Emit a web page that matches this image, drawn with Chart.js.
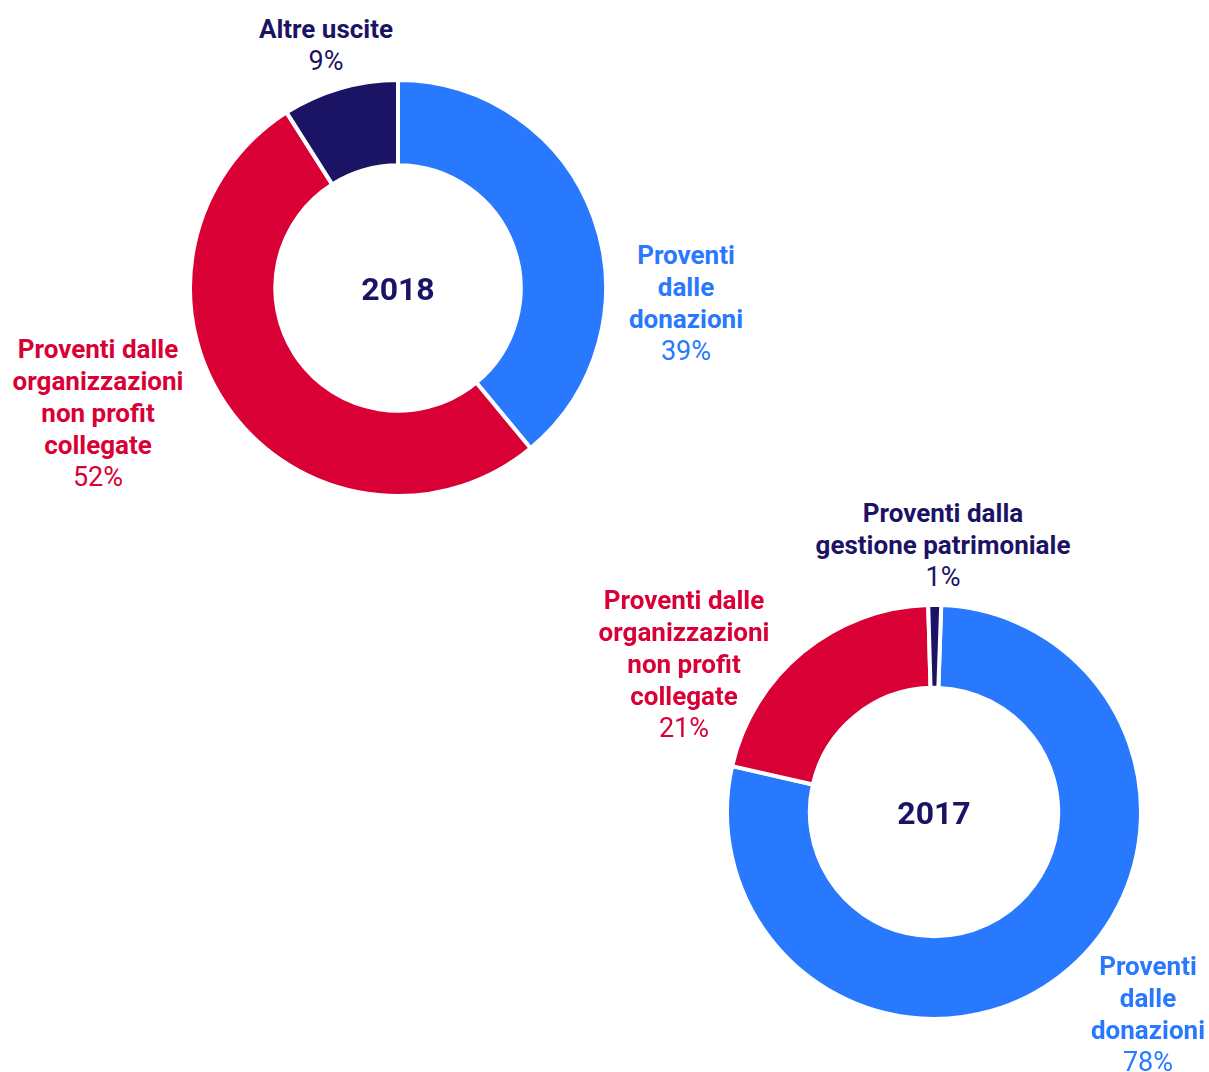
<!DOCTYPE html>
<html>
<head>
<meta charset="utf-8">
<script src="https://cdn.jsdelivr.net/npm/chart.js@4"></script>
<style>
  html, body { margin:0; padding:0; background:#fff; }
  body { width:1209px; height:1072px; position:relative; overflow:hidden; font-family:Roboto, "Noto Sans", sans-serif; }
  .wrap { position:absolute; }
  .lbl { position:absolute; transform:translateX(-50%); text-align:center; line-height:32px; white-space:nowrap; }
  .lbl b { font-weight:700; font-size:26px; display:block; }
  .lbl span { font-weight:400; font-size:27px; display:block; }
  .year { position:absolute; transform:translate(-50%,-50%); font-size:32px; font-weight:700; color:#1b1464; }
</style>
</head>
<body>
<div class="wrap" id="w2018" style="left:188px;top:78px;width:420px;height:420px"><canvas id="c2018"></canvas></div>
<div class="wrap" id="w2017" style="left:725px;top:603px;width:418px;height:418px"><canvas id="c2017"></canvas></div>

<script>
const categories2018 = ['Proventi dalle donazioni', 'Proventi dalle organizzazioni non profit collegate', 'Altre uscite'];
const values2018 = [39, 52, 9];
const categories2017 = ['Proventi dalle donazioni', 'Proventi dalle organizzazioni non profit collegate', 'Proventi dalla gestione patrimoniale'];
const values2017 = [78, 21, 1];
const colors = ['#2979ff', '#d90036', '#1b1464'];

// label lines (bold part), one list per slice
const lines2018 = [['Proventi', 'dalle', 'donazioni'], ['Proventi dalle', 'organizzazioni', 'non profit', 'collegate'], ['Altre uscite']];
const lines2017 = [['Proventi', 'dalle', 'donazioni'], ['Proventi dalle', 'organizzazioni', 'non profit', 'collegate'], ['Proventi dalla', 'gestione patrimoniale']];

// where each label block sits on the page (centre x, top y)
const pos2018 = [[686, 239], [98, 333], [326, 13]];
const pos2017 = [[1148, 950], [684, 584], [943, 497]];

function makeChart(id, cats, vals, cut, rot){
  new Chart(document.getElementById(id), {
    type:'doughnut',
    data:{
      labels:cats,
      datasets:[{ data:vals, backgroundColor:colors, borderColor:'#fff', borderWidth:4, hoverOffset:0 }]
    },
    options:{
      responsive:true, maintainAspectRatio:false, animation:false,
      cutout:cut, rotation:rot,
      layout:{ padding:0 },
      plugins:{ legend:{ display:false }, tooltip:{ enabled:false } }
    }
  });
}

function addLabels(lines, vals, pos){
  lines.forEach((ls, i) => {
    const d = document.createElement('div');
    d.className = 'lbl';
    d.style.left = pos[i][0] + 'px';
    d.style.top = pos[i][1] + 'px';
    d.style.color = colors[i];
    d.innerHTML = ls.map(t => '<b>' + t + '</b>').join('') + '<span>' + vals[i] + '%</span>';
    document.body.appendChild(d);
  });
}

function addYear(text, x, y){
  const d = document.createElement('div');
  d.className = 'year';
  d.style.left = x + 'px';
  d.style.top = y + 'px';
  d.textContent = text;
  document.body.appendChild(d);
}

makeChart('c2018', categories2018, values2018, '59%', 0);
makeChart('c2017', categories2017, values2017, '60%', 2);
addLabels(lines2018, values2018, pos2018);
addLabels(lines2017, values2017, pos2017);
addYear('2018', 398, 289);
addYear('2017', 934, 813);
</script>
</body>
</html>
